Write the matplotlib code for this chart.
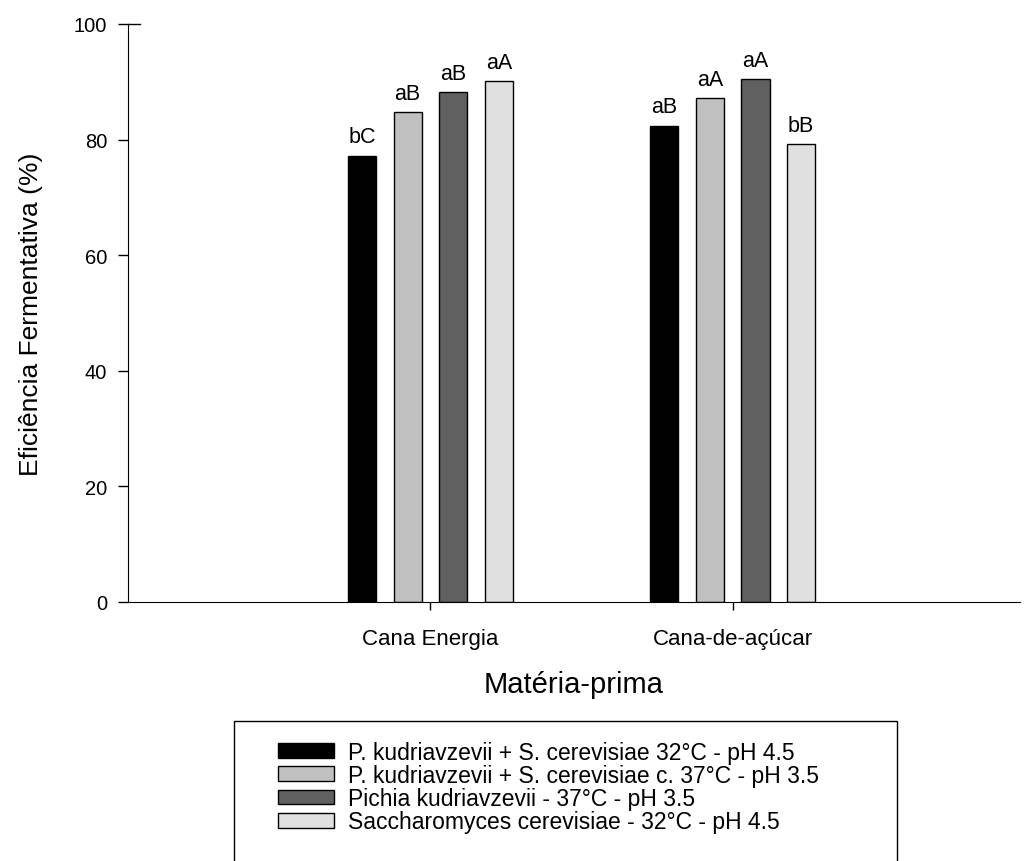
import matplotlib
matplotlib.use("Agg")
import matplotlib.pyplot as plt
import numpy as np
from matplotlib.patches import Rectangle

plt.rcParams["font.family"] = ["Liberation Sans", "DejaVu Sans"]

# ---- data ----
categories = ["Cana Energia", "Cana-de-açúcar"]
series = [
    "P. kudriavzevii + S. cerevisiae 32°C - pH 4.5",
    "P. kudriavzevii + S. cerevisiae c. 37°C - pH 3.5",
    "Pichia kudriavzevii - 37°C - pH 3.5",
    "Saccharomyces cerevisiae - 32°C - pH 4.5",
]
values = [
    [77.2, 82.4],
    [84.8, 87.2],
    [88.2, 90.5],
    [90.1, 79.2],
]
letters = [
    ["bC", "aB"],
    ["aB", "aA"],
    ["aB", "aA"],
    ["aA", "bB"],
]
colors = ["#000000", "#c0c0c0", "#606060", "#e0e0e0"]

fig = plt.figure(figsize=(10.25, 8.62), dpi=100)
ax = fig.add_axes([0.125, 0.3005, 0.87, 0.6705])

x = np.arange(len(categories))
step, width = 0.151, 0.093
handles = []
for i, (name, vals) in enumerate(zip(series, values)):
    xs = x + (i - 1.5) * step
    bars = ax.bar(xs, vals, width, color=colors[i], edgecolor="black",
                  linewidth=1.0, label=name)
    handles.append(bars)
    for xi, v, lab in zip(xs, vals, letters[i]):
        ax.annotate(lab, (xi, v), xytext=(0, 6), textcoords="offset points",
                    ha="center", va="bottom", fontsize=15.5)

ax.set_xlim(-1.0, 1.95)
ax.set_ylim(0, 100)
ax.set_yticks([0, 20, 40, 60, 80, 100])
ax.set_xticks(x)
ax.set_xticklabels(categories)
ax.spines["top"].set_visible(False)
ax.spines["right"].set_visible(False)
ax.tick_params(axis="both", direction="out", width=1)
ax.tick_params(axis="y", length=7, pad=8, labelsize=14.5)
ax.tick_params(axis="x", length=6, pad=13, labelsize=16)
# short cap at the top of the y axis
ax.axhline(100, xmin=0, xmax=0.013, color="black", linewidth=1.0,
           clip_on=False)
ax.set_ylabel("Eficiência Fermentativa (%)", fontsize=19, labelpad=22)
ax.set_xlabel("Matéria-prima", fontsize=21, labelpad=15)

# legend box (cut at the bottom of the figure)
fig.add_artist(Rectangle((234 / 1025, -0.01), (897 - 234) / 1025,
                         1 - 722 / 862 + 0.01, transform=fig.transFigure,
                         fill=False, edgecolor="black", linewidth=1.0))
fig.legend(handles, series, loc="upper left",
           bbox_to_anchor=(257 / 1025, 1 - 721 / 862), frameon=False,
           fontsize=16.5, handlelength=2.45, handleheight=0.62,
           handletextpad=0.62, labelspacing=0.01)

fig.savefig("out.png", dpi=100)
